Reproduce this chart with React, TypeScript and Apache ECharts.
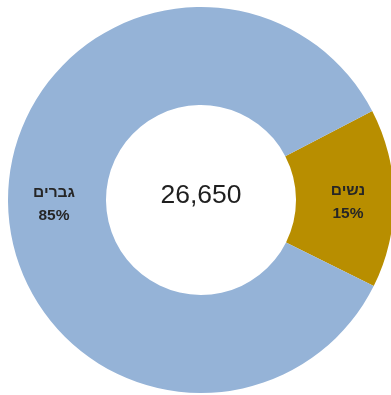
import React, { useEffect, useRef } from "react";
import * as echarts from "echarts";

const categories = ["נשים", "גברים"];
const percents = [15, 85];
const colors = ["#B88E00", "#95B3D7"];
const totalLabel = "26,650";

export default function App() {
  const ref = useRef<HTMLDivElement>(null);
  useEffect(() => {
    const chart = echarts.init(ref.current!, null, { renderer: "svg" });
    chart.setOption({
      animation: false,
      graphic: [
        {
          type: "text",
          x: 201,
          y: 194,
          style: {
            text: totalLabel,
            fontSize: 26.5,
            fontFamily: "Liberation Sans, Arial, sans-serif",
            fill: "#1f1f1f",
            textAlign: "center",
            textVerticalAlign: "middle",
          },
        },
      ],
      series: [
        {
          type: "pie",
          center: [201, 200],
          radius: [95, 193],
          startAngle: 27.5,
          clockwise: true,
          avoidLabelOverlap: false,
          label: {
            show: true,
            position: "inside",
            formatter: (p: any) => `${p.name}\n${p.value}%`,
            fontSize: 15.5,
            fontWeight: "bold",
            lineHeight: 23,
            offset: [0, 2],
            color: "#262626",
            fontFamily: "Liberation Sans, Arial, sans-serif",
          },
          labelLine: { show: false },
          emphasis: { disabled: true },
          itemStyle: { borderWidth: 0 },
          data: categories.map((c, i) => ({
            name: c,
            value: percents[i],
            itemStyle: { color: colors[i] },
          })),
        },
      ],
    });
    return () => chart.dispose();
  }, []);
  return (
    <div
      ref={ref}
      style={{ position: "fixed", left: 0, top: 0, width: 391, height: 395 }}
    />
  );
}
